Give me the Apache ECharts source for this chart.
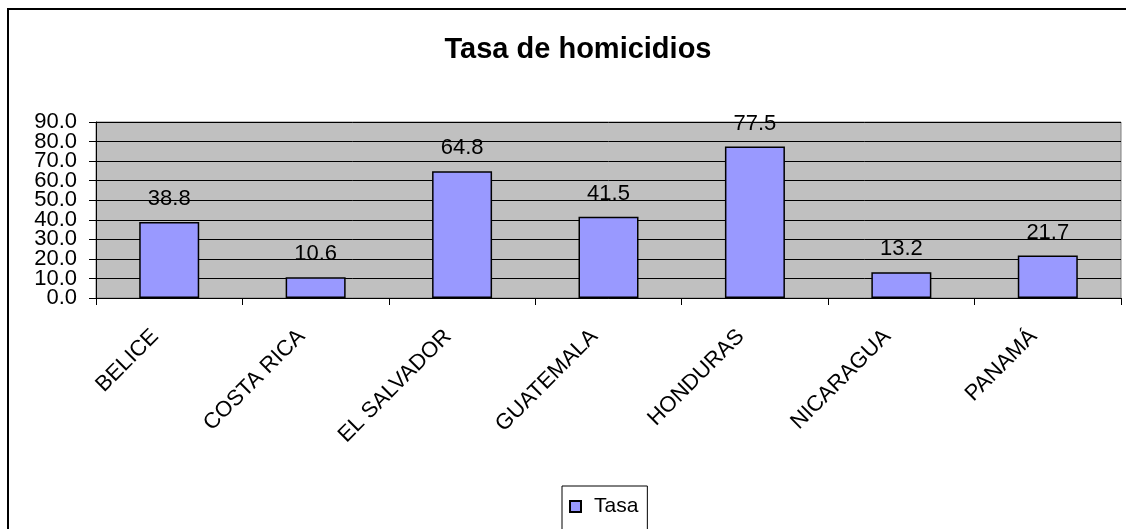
<!DOCTYPE html>
<html>
<head>
<meta charset="utf-8">
<script src="https://cdn.jsdelivr.net/npm/echarts@6/dist/echarts.min.js"></script>
<style>
  html, body { margin: 0; padding: 0; background: #fff; }
  #chart { width: 1126px; height: 529px; }
</style>
</head>
<body>
<div id="chart"></div>
<script>
const countries = ['BELICE', 'COSTA RICA', 'EL SALVADOR', 'GUATEMALA', 'HONDURAS', 'NICARAGUA', 'PANAMÁ']
const tasa = [38.8, 10.6, 64.8, 41.5, 77.5, 13.2, 21.7]

const font = '"Liberation Sans", Arial, sans-serif'
const chart = echarts.init(document.getElementById('chart'))

// labels are split over two axes so the overlapping ones are not dropped
const yLabel = even => ({
  margin: 19,
  showMinLabel: true,
  showMaxLabel: true,
  fontFamily: font,
  fontSize: 22,
  color: '#000',
  formatter: v => ((Math.round(v / 10) % 2 === 0) === even ? v.toFixed(1) : '')
})

chart.setOption({
  backgroundColor: '#ffffff',
  animation: false,
  textStyle: { fontFamily: font, color: '#000' },
  graphic: [{
    type: 'rect',
    shape: { x: 8, y: 9, width: 1160, height: 560 },
    style: { fill: 'none', stroke: '#000', lineWidth: 2 },
    silent: true
  }],
  title: {
    text: 'Tasa de homicidios',
    left: 573,
    top: 30,
    textAlign: 'center',
    textStyle: { fontFamily: font, fontSize: 29, fontWeight: 'bold', color: '#000' }
  },
  legend: {
    left: 562,
    top: 486,
    data: ['Tasa'],
    icon: 'rect',
    itemWidth: 11,
    itemHeight: 11,
    itemGap: 6,
    padding: [10, 9, 14, 7],
    borderColor: '#000',
    borderWidth: 1,
    textStyle: { fontFamily: font, fontSize: 21, color: '#000', padding: [0, 0, 0, 8] }
  },
  grid: {
    left: 96,
    top: 122,
    right: 5,
    bottom: 231,
    show: true,
    backgroundColor: '#c0c0c0',
    borderColor: '#808080',
    borderWidth: 1
  },
  xAxis: {
    type: 'category',
    data: countries,
    axisLine: { lineStyle: { color: '#000', width: 1 } },
    axisTick: { show: true, alignWithLabel: false, length: 7, lineStyle: { color: '#000' } },
    axisLabel: {
      rotate: 45,
      interval: 0,
      margin: 21,
      padding: [0, 20, 0, 0],
      fontFamily: font,
      fontSize: 22,
      color: '#000'
    }
  },
  yAxis: [{
    type: 'value',
    min: 0,
    max: 90,
    interval: 10,
    axisLine: { show: true, lineStyle: { color: '#000', width: 1 } },
    axisTick: { show: true, length: 7, lineStyle: { color: '#000' } },
    splitLine: { show: true, lineStyle: { color: '#000', width: 1 } },
    axisLabel: yLabel(true)
  }, {
    type: 'value',
    position: 'left',
    min: 0,
    max: 90,
    interval: 10,
    axisLine: { show: false },
    axisTick: { show: false },
    splitLine: { show: false },
    axisLabel: yLabel(false)
  }],
  series: [{
    name: 'Tasa',
    type: 'bar',
    data: tasa,
    barWidth: 60,
    itemStyle: { color: '#9999ff', borderColor: '#000', borderWidth: 1.5 },
    label: {
      show: true,
      position: 'top',
      distance: 12,
      fontFamily: font,
      fontSize: 22,
      color: '#000',
      formatter: p => p.value.toFixed(1)
    }
  }]
})
</script>
</body>
</html>
